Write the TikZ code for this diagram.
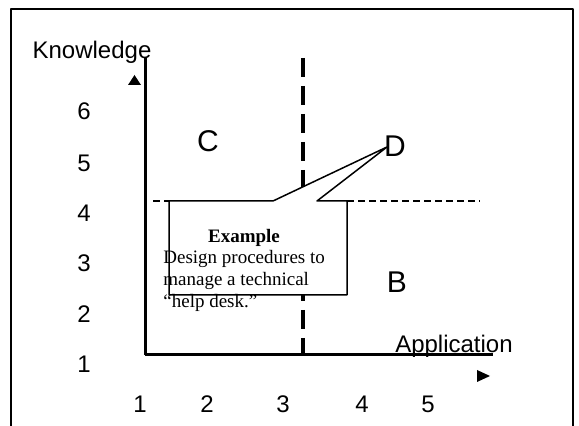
\documentclass[tikz,border=0pt]{standalone}
\usepackage{fontspec}
\setmainfont{Liberation Serif}
\setsansfont{Liberation Sans}
\usepackage{tikz}
\usetikzlibrary{positioning}

\begin{document}
\begin{tikzpicture}[x=0.5pt, y=-0.5pt, line join=round,
  axislbl/.style={font=\sffamily\fontsize{12}{14}\selectfont, inner sep=0pt, anchor=base},
  ticklbl/.style={font=\sffamily\fontsize{12}{14}\selectfont, inner sep=0pt, anchor=base},
  zonelbl/.style={font=\sffamily\fontsize{15}{18}\selectfont, inner sep=0pt, anchor=base},
  axisline/.style={line width=1.5pt},
  bigdash/.style={line width=1.6pt, dash pattern=on 9.5pt off 4.5pt},
  smalldash/.style={line width=0.6pt, dash pattern=on 3.5pt off 2pt}]
\useasboundingbox (0,0) rectangle (579,426);
\draw[line width=1pt] (11,440) -- (11,9) -- (573,9) -- (573,440);
\coordinate (O) at (145,355);
\coordinate (ytop) at (145,58);
\coordinate (xend) at (493,355);
\coordinate (vtop) at (303,58);
\coordinate (vbot) at (303,355);
\coordinate (hl) at (153,201);
\coordinate (hr) at (480,201);
\draw[smalldash] (hl) -- (169,201);
\draw[smalldash] (347,201) -- (hr);
\draw[bigdash] (vtop) -- (vbot);
\draw[axisline] (O) -- (ytop);
\draw[axisline] (O) -- (xend);
\fill (134.5,75) -- (141,85) -- (128,85) -- cycle;
\fill (477,370) -- (490,376) -- (477,382) -- cycle;
\node[axislbl] (know) at (92,59) {Knowledge};
\node[axislbl] (appl) at (454,353) {Application};
\foreach \n/\y in {6/120, 5/172, 4/222, 3/272, 2/323, 1/373}
  \node[ticklbl] (y\n) at (84,\y) {\n};
\foreach \n/\x in {1/140, 2/207, 3/283, 4/362, 5/428}
  \node[ticklbl] (x\n) at (\x,413) {\n};
\node[zonelbl] (C) at (208,152) {C};
\node[zonelbl] (D) at (395,157) {D};
\node[zonelbl] (B) at (397,293) {B};
\coordinate (tip) at (387,147);
\draw[fill=white, line width=0.75pt] (169,201) -- (273,201) -- (tip) -- (317,201)
  -- (347,201) -- (347,295) -- (169,295) -- cycle;
\node[font=\bfseries\fontsize{9.5}{11}\selectfont, inner sep=0pt, anchor=base] (extitle) at (244,243) {Example};
\node[font=\fontsize{9.5}{11}\selectfont, inner sep=0pt, anchor=base west, align=left] (extext) at (163,308)
  {Design procedures to\\manage a technical\\“help desk.”};
\end{tikzpicture}
\end{document}
